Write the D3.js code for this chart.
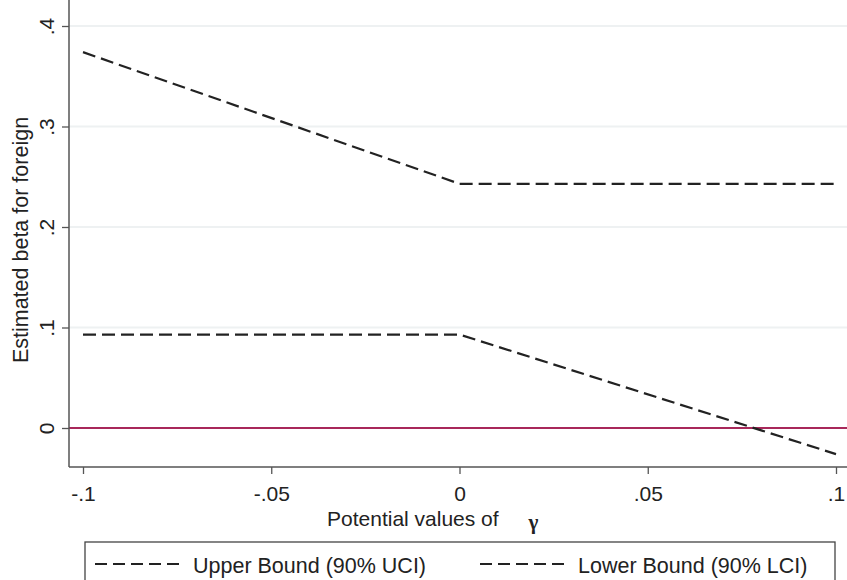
<!DOCTYPE html>
<html>
<head>
<meta charset="utf-8">
<script src="https://cdn.jsdelivr.net/npm/d3@7"></script>
<style>
  body { margin: 0; background: #fff; }
  svg { display: block; font-family: "Liberation Sans", Arial, sans-serif; }
</style>
</head>
<body>
<div id="chart"></div>
<script>
// gamma values at the kinks of the two bounds
const gamma = [-0.1, 0, 0.1];
const upperBound = [0.374, 0.243, 0.243];
const lowerBound = [0.093, 0.093, -0.026];
const xTicks = [-0.1, -0.05, 0, 0.05, 0.1];
const xTickLabels = ["-.1", "-.05", "0", ".05", ".1"];
const yTicks = [0, 0.1, 0.2, 0.3, 0.4];
const yTickLabels = ["0", ".1", ".2", ".3", ".4"];
const legendLabels = ["Upper Bound (90% UCI)", "Lower Bound (90% LCI)"];

const width = 847, height = 580;
const svg = d3.select("#chart").append("svg")
  .attr("width", width).attr("height", height);

const x = d3.scaleLinear().domain([-0.1, 0.1]).range([83, 836]);
const y = d3.scaleLinear().domain([0, 0.4]).range([428, 26]);

const plotLeft = 69, plotBottom = 467, plotRight = width;

// gridlines
svg.append("g").selectAll("line")
  .data(yTicks.filter(d => d !== 0))
  .join("line")
  .attr("x1", plotLeft).attr("x2", plotRight)
  .attr("y1", d => y(d)).attr("y2", d => y(d))
  .attr("stroke", "#eef1f2").attr("stroke-width", 2);

// zero reference line
svg.append("line")
  .attr("x1", plotLeft).attr("x2", plotRight)
  .attr("y1", y(0)).attr("y2", y(0))
  .attr("stroke", "#a8285a").attr("stroke-width", 2);

// y axis
const yAxis = d3.axisLeft(y).tickValues(yTicks)
  .tickFormat((d, i) => yTickLabels[i]).tickSize(7).tickSizeOuter(0);
const gy = svg.append("g").attr("transform", `translate(${plotLeft},0)`).call(yAxis);
gy.select(".domain").attr("d", `M0,0V${plotBottom}`)
  .attr("stroke", "#555").attr("stroke-width", 1.5);
gy.selectAll("line").attr("stroke", "#555").attr("stroke-width", 1.3);
gy.selectAll("text")
  .attr("font-size", 21).attr("fill", "#222")
  .attr("x", 0).attr("dy", 0)
  .attr("text-anchor", "middle")
  .attr("transform", "translate(-15,0) rotate(-90)");

// x axis
const xAxis = d3.axisBottom(x).tickValues(xTicks)
  .tickFormat((d, i) => xTickLabels[i]).tickSize(7).tickSizeOuter(0);
const gx = svg.append("g").attr("transform", `translate(0,${plotBottom})`).call(xAxis);
gx.select(".domain").attr("d", `M${plotLeft},0H${plotRight}`)
  .attr("stroke", "#555").attr("stroke-width", 1.5);
gx.selectAll("line").attr("stroke", "#555").attr("stroke-width", 1.3);
gx.selectAll("text").attr("font-size", 21).attr("fill", "#222")
  .attr("y", 34).attr("dy", 0);

// axis titles
svg.append("text")
  .attr("transform", "translate(28,240) rotate(-90)")
  .attr("text-anchor", "middle")
  .attr("font-size", 21.5).attr("fill", "#222")
  .text("Estimated beta for foreign");

const xt = svg.append("text")
  .attr("x", 327).attr("y", 526)
  .attr("font-size", 21).attr("fill", "#222");
xt.append("tspan").text("Potential values of");
xt.append("tspan").attr("dx", 30).attr("font-family", "Liberation Serif, serif")
  .attr("font-weight", "bold").attr("font-size", 21).attr("dy", 3).text("γ");

// bound lines
const line = d3.line().x((d, i) => x(gamma[i])).y(d => y(d));
[upperBound, lowerBound].forEach(s => {
  svg.append("path")
    .attr("d", line(s))
    .attr("fill", "none")
    .attr("stroke", "#222")
    .attr("stroke-width", 2.2)
    .attr("stroke-dasharray", "13,6");
});

// legend
svg.append("rect")
  .attr("x", 85).attr("y", 542).attr("width", 750).attr("height", 50)
  .attr("fill", "#fff").attr("stroke", "#444").attr("stroke-width", 1.3);
const legendX = [95, 480];
legendLabels.forEach((lab, i) => {
  svg.append("line")
    .attr("x1", legendX[i]).attr("x2", legendX[i] + 84)
    .attr("y1", 564).attr("y2", 564)
    .attr("stroke", "#222").attr("stroke-width", 2)
    .attr("stroke-dasharray", "12,6");
  svg.append("text")
    .attr("x", legendX[i] + 98).attr("y", 573)
    .attr("font-size", 21.5).attr("fill", "#222")
    .text(lab);
});
</script>
</body>
</html>
